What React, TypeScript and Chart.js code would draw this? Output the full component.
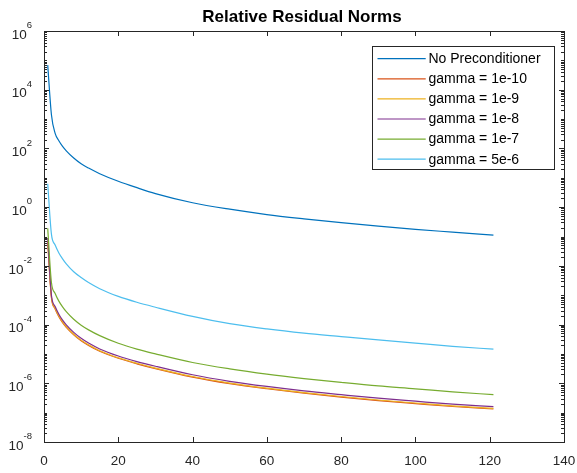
import React, { useEffect, useRef } from 'react';
import { Chart, registerables } from 'chart.js';

Chart.register(...registerables);

// ---------- data ----------
const iterations = [1, 2, 3, 4, 5, 6, 8, 10, 12, 15, 20, 25, 30, 40, 50, 60, 70, 80, 90, 100, 110, 121];

const noPreconditioner = [6.9e4, 1.41e3, 324, 182, 117, 83, 47, 30, 21.4, 13.8, 7.6, 4.6, 2.9, 1.41, 0.85, 0.56, 0.40, 0.295, 0.224, 0.174, 0.141, 0.112];
const gamma1e10 = [0.066, 8.3e-4, 3.4e-4, 1.86e-4, 1.17e-4, 8.1e-5, 4.5e-5, 2.8e-5, 1.94e-5, 1.23e-5, 7.1e-6, 4.6e-6, 3.15e-6, 1.62e-6, 9.7e-7, 6.5e-7, 4.6e-7, 3.4e-7, 2.57e-7, 2.03e-7, 1.62e-7, 1.33e-7];
const gamma1e9 = [0.072, 8.7e-4, 3.6e-4, 1.95e-4, 1.23e-4, 8.5e-5, 4.7e-5, 2.95e-5, 2.04e-5, 1.29e-5, 7.4e-6, 4.8e-6, 3.3e-6, 1.7e-6, 1.02e-6, 6.8e-7, 4.8e-7, 3.55e-7, 2.7e-7, 2.13e-7, 1.7e-7, 1.39e-7];
const gamma1e8 = [0.089, 1.0e-3, 4.1e-4, 2.24e-4, 1.41e-4, 9.8e-5, 5.4e-5, 3.4e-5, 2.34e-5, 1.48e-5, 8.5e-6, 5.5e-6, 3.8e-6, 1.95e-6, 1.17e-6, 7.8e-7, 5.5e-7, 4.1e-7, 3.1e-7, 2.45e-7, 1.95e-7, 1.6e-7];
const gamma1e7 = [0.19, 2.7e-3, 1.15e-3, 6.3e-4, 4.0e-4, 2.75e-4, 1.51e-4, 9.5e-5, 6.6e-5, 4.2e-5, 2.3e-5, 1.45e-5, 1.0e-5, 5.1e-6, 3.1e-6, 2.05e-6, 1.45e-6, 1.07e-6, 8.1e-7, 6.5e-7, 5.1e-7, 4.1e-7];
const gamma5e6 = [6.3, 0.12, 0.051, 0.0275, 0.0174, 0.0117, 0.0063, 0.004, 0.0027, 0.00166, 9.1e-4, 5.75e-4, 3.9e-4, 1.9e-4, 1.07e-4, 7.1e-5, 5.1e-5, 3.9e-5, 3.0e-5, 2.35e-5, 1.82e-5, 1.45e-5];

const seriesValues = [noPreconditioner, gamma1e10, gamma1e9, gamma1e8, gamma1e7, gamma5e6];
const seriesLabels = ['No Preconditioner', 'gamma = 1e-10', 'gamma = 1e-9', 'gamma = 1e-8', 'gamma = 1e-7', 'gamma = 5e-6'];
const seriesColors = ['#0072BD', '#D95319', '#EDB120', '#7E2F8E', '#77AC30', '#4DBEEE'];

const xTicks = [0, 20, 40, 60, 80, 100, 120, 140];
const yTickExponents = [-8, -6, -4, -2, 0, 2, 4, 6];
const titleText = 'Relative Residual Norms';

// ---------- styling ----------
const FONT = 'Arial, "Liberation Sans", Helvetica, sans-serif';
const AXIS_COLOR = '#262626';

const matlabAxes = {
  id: 'matlabAxes',
  afterDatasetsDraw(chart: any) {
    const ctx: CanvasRenderingContext2D = chart.ctx;
    const { left, right, top, bottom } = chart.chartArea;
    const xs = chart.scales.x;
    const ys = chart.scales.y;
    ctx.save();
    ctx.strokeStyle = AXIS_COLOR;
    ctx.lineWidth = 1;

    // ticks (inward, all four sides)
    const major = 5;
    const minor = 3;
    ctx.beginPath();
    xTicks.forEach((t) => {
      const px = Math.round(xs.getPixelForValue(t)) + 0.5;
      ctx.moveTo(px, bottom);
      ctx.lineTo(px, bottom - major);
      ctx.moveTo(px, top);
      ctx.lineTo(px, top + major);
    });
    const yMin = yTickExponents[0];
    const yMax = yTickExponents[yTickExponents.length - 1];
    for (let e = yMin; e <= yMax; e++) {
      for (let m = 1; m < 10; m++) {
        if (e === yMax && m > 1) break;
        const py = Math.round(ys.getPixelForValue(m * Math.pow(10, e))) + 0.5;
        const len = m === 1 && yTickExponents.includes(e) ? major : minor;
        ctx.moveTo(left, py);
        ctx.lineTo(left + len, py);
        ctx.moveTo(right, py);
        ctx.lineTo(right - len, py);
      }
    }
    ctx.stroke();

    // box
    ctx.strokeRect(Math.round(left) + 0.5, Math.round(top) + 0.5, Math.round(right - left), Math.round(bottom - top));

    // x tick labels
    ctx.fillStyle = AXIS_COLOR;
    ctx.font = `13.5px ${FONT}`;
    ctx.textAlign = 'center';
    ctx.textBaseline = 'alphabetic';
    xTicks.forEach((t) => {
      ctx.fillText(String(t), xs.getPixelForValue(t), bottom + 23);
    });

    // y tick labels: 10 with superscript exponent
    yTickExponents.forEach((e) => {
      const py = ys.getPixelForValue(Math.pow(10, e));
      const expStr = e < 0 ? '-' + String(-e) : String(e);
      ctx.font = `9.5px ${FONT}`;
      const we = ctx.measureText(expStr).width;
      ctx.font = `13.5px ${FONT}`;
      const wb = ctx.measureText('10').width;
      const xEnd = left - 12;
      ctx.textAlign = 'left';
      ctx.fillText('10', xEnd - we - wb, py + 7.7);
      ctx.font = `9.5px ${FONT}`;
      ctx.fillText(expStr, xEnd - we, py - 2.8);
    });

    // title
    ctx.font = `bold 17px ${FONT}`;
    ctx.textAlign = 'center';
    ctx.fillStyle = '#000000';
    ctx.fillText(titleText, (left + right) / 2 - 2, 21.7);

    // legend box
    const lx0 = 372.5, lx1 = 554.5, ly0 = 46.5, ly1 = 169.5;
    ctx.fillStyle = '#ffffff';
    ctx.fillRect(lx0, ly0, lx1 - lx0, ly1 - ly0);
    ctx.strokeStyle = AXIS_COLOR;
    ctx.strokeRect(lx0, ly0, lx1 - lx0, ly1 - ly0);
    ctx.font = `14px ${FONT}`;
    ctx.textAlign = 'left';
    ctx.textBaseline = 'middle';
    chart.data.datasets.forEach((ds: any, i: number) => {
      const cy = 58.7 + i * 20.1;
      ctx.strokeStyle = ds.borderColor;
      ctx.lineWidth = 1.2;
      ctx.beginPath();
      ctx.moveTo(377.5, cy);
      ctx.lineTo(425.7, cy);
      ctx.stroke();
      ctx.fillStyle = '#000000';
      ctx.fillText(ds.label, 428.5, cy + 0.5);
    });
    ctx.restore();
  },
};

export default function App() {
  const canvasRef = useRef<HTMLCanvasElement | null>(null);

  useEffect(() => {
    if (!canvasRef.current) return;
    const datasets = seriesValues.map((vals, i) => ({
      label: seriesLabels[i],
      data: vals.map((v, j) => ({ x: iterations[j], y: v })),
      borderColor: seriesColors[i],
      backgroundColor: seriesColors[i],
      borderWidth: 1.2,
      pointRadius: 0,
      fill: false,
      cubicInterpolationMode: 'monotone' as const,
      order: seriesValues.length - i,
    }));
    const chart = new Chart(canvasRef.current, {
      type: 'line',
      data: { datasets },
      options: {
        responsive: false,
        animation: false,
        maintainAspectRatio: false,
        layout: { padding: { left: 44, top: 31, right: 13, bottom: 31 } },
        plugins: {
          legend: { display: false },
          title: { display: false },
          tooltip: { enabled: false },
        },
        scales: {
          x: { type: 'linear', min: 0, max: 140, display: false },
          y: { type: 'logarithmic', min: 1e-8, max: 1e6, display: false },
        },
      },
      plugins: [matlabAxes],
    });
    return () => chart.destroy();
  }, []);

  return (
    <div style={{ position: 'fixed', left: 0, top: 0, width: 577, height: 473, background: '#ffffff' }}>
      <canvas ref={canvasRef} width={577} height={473} style={{ display: 'block' }} />
    </div>
  );
}
